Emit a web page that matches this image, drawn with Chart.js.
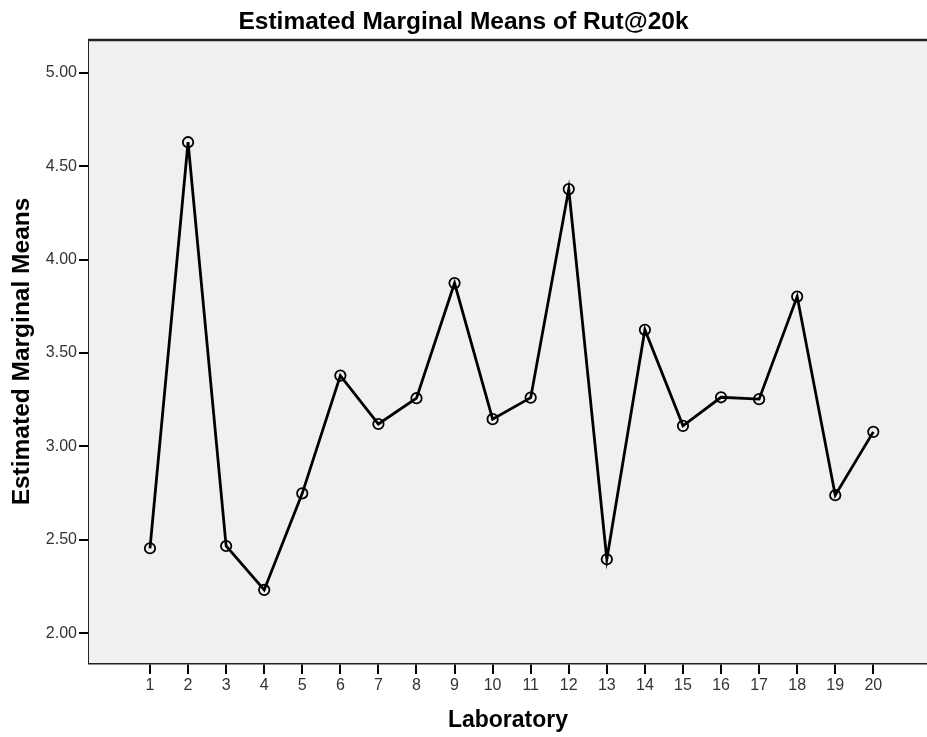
<!DOCTYPE html>
<html>
<head>
<meta charset="utf-8">
<script src="https://cdn.jsdelivr.net/npm/chart.js@4.4.1/dist/chart.umd.min.js"></script>
<style>
  html, body { margin: 0; padding: 0; background: #ffffff; }
  #wrap { width: 927px; height: 737px; }
</style>
</head>
<body>
<div id="wrap"><canvas id="c" width="927" height="737"></canvas></div>
<script>
// ---- data ----
const laboratories = [1, 2, 3, 4, 5, 6, 7, 8, 9, 10, 11, 12, 13, 14, 15, 16, 17, 18, 19, 20];
const marginalMeans = [2.455, 4.628, 2.467, 2.232, 2.749, 3.379, 3.120, 3.258, 3.874, 3.146,
                       3.261, 4.377, 2.396, 3.624, 3.110, 3.263, 3.253, 3.802, 2.739, 3.078];
const yTickValues = [2.0, 2.5, 3.0, 3.5, 4.0, 4.5, 5.0];
const chartTitle = "Estimated Marginal Means of Rut@20k";
const xTitle = "Laboratory";
const yTitle = "Estimated Marginal Means";

const points = laboratories.map((lab, i) => ({ x: lab, y: marginalMeans[i] }));

const FONT = "Arial, 'Liberation Sans', Helvetica, sans-serif";

const plotFrame = {
  id: 'plotFrame',
  beforeDatasetsDraw(chart) {
    const { ctx, chartArea: a } = chart;
    ctx.save();
    ctx.fillStyle = '#f0f0f0';
    ctx.fillRect(a.left, a.top, a.right - a.left, a.bottom - a.top);
    ctx.restore();
  },
  afterDraw(chart) {
    const { ctx, chartArea: a } = chart;
    ctx.save();
    ctx.strokeStyle = '#222222';
    ctx.lineWidth = 2.5;
    ctx.beginPath();
    ctx.moveTo(a.left - 1, a.top);
    ctx.lineTo(a.right, a.top);
    ctx.stroke();
    ctx.restore();
  }
};

new Chart(document.getElementById('c'), {
  type: 'line',
  data: {
    datasets: [{
      data: points,
      borderColor: '#000000',
      borderWidth: 2.8,
      tension: 0,
      fill: false,
      clip: false,
      pointRadius: 5.2,
      pointBorderWidth: 1.8,
      pointBorderColor: '#000000',
      pointBackgroundColor: 'rgba(0,0,0,0)',
      pointStyle: 'circle'
    }]
  },
  options: {
    responsive: false,
    animation: false,
    layout: { autoPadding: false, padding: 0 },
    plugins: {
      legend: { display: false },
      tooltip: { enabled: false },
      title: {
        display: true,
        text: chartTitle,
        color: '#000000',
        font: { family: FONT, size: 24.5, weight: 'bold', lineHeight: 1.2 },
        padding: { top: 8, bottom: 2.6 }
      }
    },
    scales: {
      x: {
        type: 'linear',
        min: -0.602,
        max: 21.41,
        afterBuildTicks(scale) {
          scale.ticks = laboratories.map(v => ({ value: v }));
        },
        afterFit(scale) { scale.height = 74; },
        ticks: {
          color: '#333333',
          font: { family: FONT, size: 16 },
          padding: 2,
          maxRotation: 0,
          autoSkip: false,
          callback: v => String(v)
        },
        grid: {
          display: true,
          drawOnChartArea: false,
          drawTicks: true,
          tickLength: 11,
          color: '#000000',
          lineWidth: 2
        },
        border: { display: true, color: '#222222', width: 2.5 },
        title: {
          display: true,
          text: xTitle,
          color: '#000000',
          font: { family: FONT, size: 23, weight: 'bold', lineHeight: 1.2 },
          padding: { top: 0, bottom: 3 }
        }
      },
      y: {
        type: 'linear',
        min: 1.841,
        max: 5.175,
        afterBuildTicks(scale) {
          scale.ticks = yTickValues.map(v => ({ value: v }));
        },
        afterFit(scale) { scale.width = 89; },
        ticks: {
          color: '#333333',
          font: { family: FONT, size: 16 },
          padding: 2,
          callback: v => Number(v).toFixed(2)
        },
        grid: {
          display: true,
          drawOnChartArea: false,
          drawTicks: true,
          tickLength: 10,
          color: '#000000',
          lineWidth: 2
        },
        border: { display: true, color: '#222222', width: 2.5 },
        title: {
          display: true,
          text: yTitle,
          color: '#000000',
          font: { family: FONT, size: 24.5, weight: 'bold', lineHeight: 1.2 },
          padding: { top: 8, bottom: 0 }
        }
      }
    }
  },
  plugins: [plotFrame]
});
</script>
</body>
</html>
